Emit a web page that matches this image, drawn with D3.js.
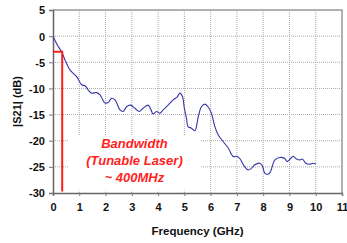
<!DOCTYPE html>
<html>
<head>
<meta charset="utf-8">
<script src="https://cdn.jsdelivr.net/npm/d3@7"></script>
<style>
  body { margin: 0; background: #fff; }
  text { font-family: Arial, "Liberation Sans", sans-serif; }
</style>
</head>
<body>
<div id="app"></div>
<script>
// S21 response
const freqGHz = [0, 0.2, 0.33, 0.46, 0.65, 0.9, 1.09, 1.22, 1.34, 1.47, 1.66, 1.79, 1.98, 2.1, 2.23, 2.36,
    2.55, 2.67, 2.8, 2.95, 3.12, 3.28, 3.43, 3.62, 3.73, 3.81, 3.94, 4.07, 4.19, 4.38, 4.57, 4.73, 4.83,
    4.93, 5.0, 5.08, 5.14, 5.27, 5.4, 5.53, 5.65, 5.78, 5.9, 6.03, 6.16, 6.29, 6.48, 6.67, 6.86, 7.01,
    7.11, 7.3, 7.43, 7.55, 7.68, 7.87, 7.97, 8.06, 8.19, 8.28, 8.44, 8.63, 8.82, 8.91, 8.99, 9.14, 9.27,
    9.39, 9.49, 9.62, 9.77, 9.9, 10.0];
const s21dB = [0, -2.0, -3.0, -4.6, -6.5, -7.75, -9.3, -9.5, -10.3, -10.9, -10.8, -11.25, -12.8, -12.7, -11.9, -12.2,
    -14.1, -14.4, -13.5, -13.2, -13.8, -14.4, -13.8, -13.2, -14.1, -14.9, -14.4, -14.75, -14.1, -13.2, -12.2, -11.6, -10.9,
    -11.6, -13.8, -15.7, -17.3, -17.6, -18.1, -15.4, -13.5, -13.0, -13.5, -14.75, -17.3, -18.9, -20.2, -21.4, -23.0, -23.0,
    -23.4, -25.0, -25.6, -25.3, -24.6, -24.3, -24.8, -26.2, -26.4, -25.9, -23.7, -23.2, -23.4, -24.0, -23.7, -23.0, -23.5,
    -23.7, -23.5, -24.3, -24.5, -24.3, -24.45];

// 3 dB bandwidth marker
const bwFreq = 0.35;
const bwLevel = -3;

const xTicks = [0, 1, 2, 3, 4, 5, 6, 7, 8, 9, 10, 11];
const yTicks = [5, 0, -5, -10, -15, -20, -25, -30];
const noteLines = ['Bandwidth', '(Tunable Laser)', '~ 400MHz'];

const width = 347;
const height = 243;
const margin = { top: 10, right: 5, bottom: 50, left: 53 };

const svg = d3.select('#app').append('svg')
    .attr('width', width)
    .attr('height', height);

const x = d3.scaleLinear().domain([0, 11]).range([margin.left, width - margin.right]);
const y = d3.scaleLinear().domain([-30, 5]).range([height - margin.bottom, margin.top]);

// grid
svg.append('g')
    .selectAll('line')
    .data(xTicks.slice(1, -1))
    .join('line')
    .attr('x1', d => x(d)).attr('x2', d => x(d))
    .attr('y1', y(5)).attr('y2', y(-30))
    .attr('stroke', '#aaa')
    .attr('stroke-dasharray', '1,1');

svg.append('g')
    .selectAll('line')
    .data(yTicks.slice(1, -1))
    .join('line')
    .attr('x1', x(0)).attr('x2', x(11))
    .attr('y1', d => y(d)).attr('y2', d => y(d))
    .attr('stroke', '#aaa')
    .attr('stroke-dasharray', '1,1');

// white box behind the note
svg.append('rect')
    .attr('x', x(0.57)).attr('y', y(-19))
    .attr('width', x(5.6) - x(0.57))
    .attr('height', y(-29.5) - y(-19))
    .attr('fill', '#fff');

// frame: top and right
svg.append('path')
    .attr('d', `M${x(0)},${y(5)}H${x(11)}V${y(-30)}`)
    .attr('fill', 'none')
    .attr('stroke', '#999')
    .attr('stroke-width', 1.5);

// axes
const xAxis = svg.append('g')
    .attr('transform', `translate(0,${y(-30)})`)
    .call(d3.axisBottom(x).tickValues(xTicks).tickSize(3).tickPadding(7).tickFormat(d3.format('d')));

const yAxis = svg.append('g')
    .attr('transform', `translate(${x(0)},0)`)
    .call(d3.axisLeft(y).tickValues(yTicks).tickSize(4).tickPadding(4).tickFormat(d => d));

[xAxis, yAxis].forEach(a => {
    a.select('.domain').attr('stroke', '#666').attr('stroke-width', 1.5);
    a.selectAll('.tick line').attr('stroke', '#777');
    a.selectAll('text')
        .attr('font-family', 'Arial, "Liberation Sans", sans-serif')
        .attr('font-size', 11)
        .attr('font-weight', 'bold')
        .attr('fill', '#111');
});
yAxis.selectAll('text').attr('dy', '0.36em');

// response curve
const line = d3.line()
    .x((d, i) => x(freqGHz[i]))
    .y(d => y(d))
    .curve(d3.curveCatmullRom);

svg.append('path')
    .datum(s21dB)
    .attr('d', line)
    .attr('fill', 'none')
    .attr('stroke', '#3535a8')
    .attr('stroke-width', 1.1);

// bandwidth marker
svg.append('path')
    .attr('d', `M${x(0)},${y(bwLevel)}H${x(bwFreq)}V${y(-29.7)}`)
    .attr('fill', 'none')
    .attr('stroke', '#ff1f1f')
    .attr('stroke-width', 2);

// note
svg.append('g')
    .selectAll('text')
    .data(noteLines)
    .join('text')
    .attr('x', x(3.1))
    .attr('y', (d, i) => 148 + i * 17)
    .attr('text-anchor', 'middle')
    .attr('font-size', 13)
    .attr('font-weight', 'bold')
    .attr('font-style', 'italic')
    .attr('fill', '#ff1f1f')
    .text(d => d);

// axis titles
svg.append('text')
    .attr('x', (x(0) + x(11)) / 2)
    .attr('y', 235)
    .attr('text-anchor', 'middle')
    .attr('font-size', 11.5)
    .attr('font-weight', 'bold')
    .attr('fill', '#111')
    .text('Frequency (GHz)');

svg.append('text')
    .attr('transform', `translate(17,${(y(5) + y(-30)) / 2}) rotate(-90)`)
    .attr('text-anchor', 'middle')
    .attr('dy', '0.35em')
    .attr('font-size', 11)
    .attr('font-weight', 'bold')
    .attr('fill', '#111')
    .text('|S21| (dB)');
</script>
</body>
</html>
